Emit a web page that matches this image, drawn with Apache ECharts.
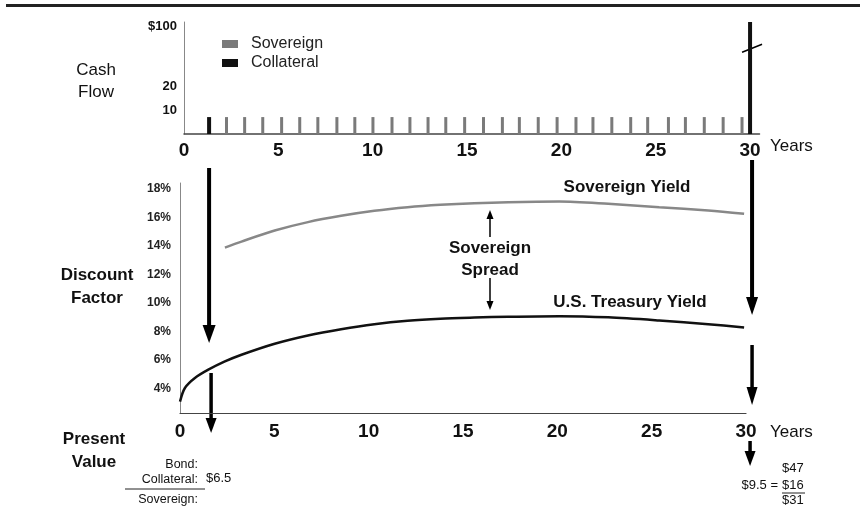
<!DOCTYPE html>
<html>
<head>
<meta charset="utf-8">
<script src="https://cdn.jsdelivr.net/npm/echarts@6/dist/echarts.min.js"></script>
<style>
  html, body { margin: 0; padding: 0; background: #fff; }
  #chart { width: 863px; height: 511px; }
</style>
</head>
<body>
<div id="chart"></div>
<script>
const FONT = '"Liberation Sans", Arial, Helvetica, sans-serif';

// cash flows: [year, amount]
const sovereignFlows = [
  [2.28, 7.1], [3.24, 7.1], [4.2, 7.1], [5.2, 7.1], [6.16, 7.1], [7.12, 7.1],
  [8.13, 7.1], [9.08, 7.1], [10.04, 7.1], [11.05, 7.1], [12.0, 7.1], [12.96, 7.1],
  [13.9, 7.1], [14.9, 7.1], [15.9, 7.1], [16.9, 7.1], [17.8, 7.1], [18.8, 7.1],
  [19.8, 7.1], [20.8, 7.1], [21.7, 7.1], [22.7, 7.1], [23.7, 7.1], [24.6, 7.1],
  [25.7, 7.1], [26.6, 7.1], [27.6, 7.1], [28.6, 7.1], [29.6, 7.1]
];
const collateralFlows = [[1.33, 7.1], [30, 47]];

// yield curves (year, %)
const treasuryYears = [0, 0.26, 0.79, 1.5, 2.38, 3.26, 5.02, 6.78, 8.54, 10.3, 12.06, 13.8, 15.6, 17.4, 20.1, 22.7, 25.4, 28.0, 29.9];
const treasuryYield = [3.1, 4.05, 4.75, 5.33, 5.91, 6.38, 7.15, 7.73, 8.17, 8.52, 8.76, 8.9, 8.98, 9.04, 9.08, 9.0, 8.78, 8.52, 8.29];
const sovCurveYears = [2.38, 3.26, 5.02, 6.78, 8.54, 10.3, 12.06, 13.8, 15.6, 17.4, 20.1, 22.7, 25.4, 28.0, 29.9];
const sovereignYield = [13.88, 14.3, 15.07, 15.66, 16.1, 16.45, 16.7, 16.87, 16.99, 17.06, 17.1, 16.94, 16.7, 16.47, 16.24];

// tick labels
const yearTicks = [0, 5, 10, 15, 20, 25, 30];
const cashTicks = [10, 20, 45];
const cashTickLabels = ['10', '20', '$100'];
const yieldTicks = [4, 6, 8, 10, 12, 14, 16, 18];

const chart = echarts.init(document.getElementById('chart'));

const zip = (xs, ys) => xs.map((x, i) => [x, ys[i]]);

const option = {
  animation: false,
  textStyle: { fontFamily: FONT },
  legend: {
    data: ['Sovereign', 'Collateral'],
    orient: 'vertical',
    left: 217, top: 31,
    itemWidth: 16, itemHeight: 8, itemGap: 3,
    icon: 'rect',
    textStyle: { fontFamily: FONT, fontSize: 16, color: '#222', padding: [0, 0, 0, 8] }
  },
  grid: [
    { left: 184, top: 22, width: 575.5, height: 112 },
    { left: 180, top: 183, width: 566, height: 230 }
  ],
  xAxis: [
    {
      gridIndex: 0, type: 'value', min: 0, max: 30.5,
      axisLine: { lineStyle: { color: '#444', width: 1.5 } },
      axisTick: { show: false }, splitLine: { show: false },
      axisLabel: { customValues: yearTicks, margin: 7, fontSize: 19, fontWeight: 'bold', color: '#111', fontFamily: FONT }
    },
    {
      gridIndex: 1, type: 'value', min: 0, max: 30,
      axisLine: { lineStyle: { color: '#444', width: 1.2 } },
      axisTick: { show: false }, splitLine: { show: false },
      axisLabel: { customValues: yearTicks, margin: 9, fontSize: 19, fontWeight: 'bold', color: '#111', fontFamily: FONT }
    }
  ],
  yAxis: [
    {
      gridIndex: 0, type: 'value', min: 0, max: 47,
      axisLine: { show: true, lineStyle: { color: '#888', width: 1 } },
      axisTick: { show: false }, splitLine: { show: false },
      axisLabel: {
        customValues: cashTicks, margin: 7, fontSize: 13, fontWeight: 'bold', color: '#111', fontFamily: FONT,
        formatter: v => cashTickLabels[cashTicks.indexOf(v)]
      }
    },
    {
      gridIndex: 1, type: 'value', min: 2.3, max: 18.4,
      axisLine: { show: true, lineStyle: { color: '#888', width: 1 } },
      axisTick: { show: false }, splitLine: { show: false },
      axisLabel: { customValues: yieldTicks, margin: 9, fontSize: 12, fontWeight: 'bold', color: '#222', fontFamily: FONT, formatter: '{value}%' }
    }
  ],
  series: [
    {
      name: 'Sovereign', type: 'bar', xAxisIndex: 0, yAxisIndex: 0,
      barWidth: 3, barGap: '-100%',
      itemStyle: { color: '#7a7a7a' },
      data: sovereignFlows
    },
    {
      name: 'Collateral', type: 'bar', xAxisIndex: 0, yAxisIndex: 0,
      barWidth: 4, barGap: '-100%',
      itemStyle: { color: '#111' },
      data: collateralFlows
    },
    {
      name: 'Sovereign Yield', type: 'line', xAxisIndex: 1, yAxisIndex: 1,
      smooth: 0.3, symbol: 'none',
      lineStyle: { color: '#888', width: 2.5 },
      data: zip(sovCurveYears, sovereignYield)
    },
    {
      name: 'U.S. Treasury Yield', type: 'line', xAxisIndex: 1, yAxisIndex: 1,
      smooth: 0.3, symbol: 'none',
      lineStyle: { color: '#111', width: 2.5 },
      data: zip(treasuryYears, treasuryYield)
    }
  ]
};
chart.setOption(option);

// annotations
const xFirst = chart.convertToPixel({ gridIndex: 0 }, [collateralFlows[0][0], 0])[0];
const xLast = chart.convertToPixel({ gridIndex: 0 }, [30, 0])[0];
const breakY = chart.convertToPixel({ gridIndex: 0 }, [30, 36])[1];

function arrow(x, y1, y2, lw, hw, hh) {
  const dir = y2 > y1 ? 1 : -1;
  const base = y2 - dir * hh;
  return [
    { type: 'line', shape: { x1: x, y1: y1, x2: x, y2: base + dir }, style: { stroke: '#000', lineWidth: lw } },
    { type: 'polygon', shape: { points: [[x - hw / 2, base], [x + hw / 2, base], [x, y2]] }, style: { fill: '#000' } }
  ];
}

function txt(text, x, y, size, opts) {
  return {
    type: 'text',
    style: Object.assign({
      text: text, x: x, y: y, align: 'center', verticalAlign: 'middle',
      font: (opts && opts.weight ? opts.weight + ' ' : '') + size + 'px ' + FONT,
      fill: '#111'
    }, opts && opts.style)
  };
}

const graphics = [].concat(
  [{ type: 'rect', shape: { x: 6, y: 4, width: 854, height: 3 }, style: { fill: '#222' } }],
  arrow(xFirst, 168, 343, 4, 13, 18),
  arrow(xFirst + 2, 373, 433, 3.5, 11, 15),
  arrow(xLast + 2, 160, 315, 4, 12, 18),
  arrow(xLast + 2, 345, 405, 3.5, 11, 18),
  arrow(xLast, 441, 466, 3.5, 11, 15),
  arrow(490, 237, 210, 1.5, 7, 9),
  arrow(490, 278, 310, 1.5, 7, 9),
  [
    { type: 'line', shape: { x1: xLast - 8, y1: breakY + 4, x2: xLast + 12, y2: breakY - 4 }, style: { stroke: '#000', lineWidth: 1.5 } },
    txt('Cash', 96, 70, 17),
    txt('Flow', 96, 92, 17),
    txt('Discount', 97, 275, 17, { weight: 'bold' }),
    txt('Factor', 97, 298, 17, { weight: 'bold' }),
    txt('Present', 94, 439, 17, { weight: 'bold' }),
    txt('Value', 94, 462, 17, { weight: 'bold' }),
    txt('Years', 770, 146, 17, { style: { align: 'left' } }),
    txt('Years', 770, 432, 17, { style: { align: 'left' } }),
    txt('Sovereign Yield', 627, 187, 17, { weight: 'bold' }),
    txt('U.S. Treasury Yield', 630, 302, 17, { weight: 'bold' }),
    txt('Sovereign', 490, 248, 17, { weight: 'bold' }),
    txt('Spread', 490, 270, 17, { weight: 'bold' }),
    txt('Bond:', 198, 465, 12.5, { style: { align: 'right' } }),
    txt('Collateral:', 198, 480, 12.5, { style: { align: 'right' } }),
    txt('$6.5', 206, 478, 13, { style: { align: 'left' } }),
    txt('Sovereign:', 198, 500, 12.5, { style: { align: 'right' } }),
    { type: 'line', shape: { x1: 125, y1: 489, x2: 205, y2: 489 }, style: { stroke: '#222', lineWidth: 1 } },
    txt('$47', 782, 468, 13, { style: { align: 'left' } }),
    txt('$9.5 =', 778, 485, 13, { style: { align: 'right' } }),
    txt('$16', 782, 485, 13, { style: { align: 'left' } }),
    { type: 'line', shape: { x1: 782, y1: 493, x2: 805, y2: 493 }, style: { stroke: '#222', lineWidth: 1 } },
    txt('$31', 782, 500, 13, { style: { align: 'left' } })
  ]
);

chart.setOption({ graphic: graphics });
</script>
</body>
</html>
